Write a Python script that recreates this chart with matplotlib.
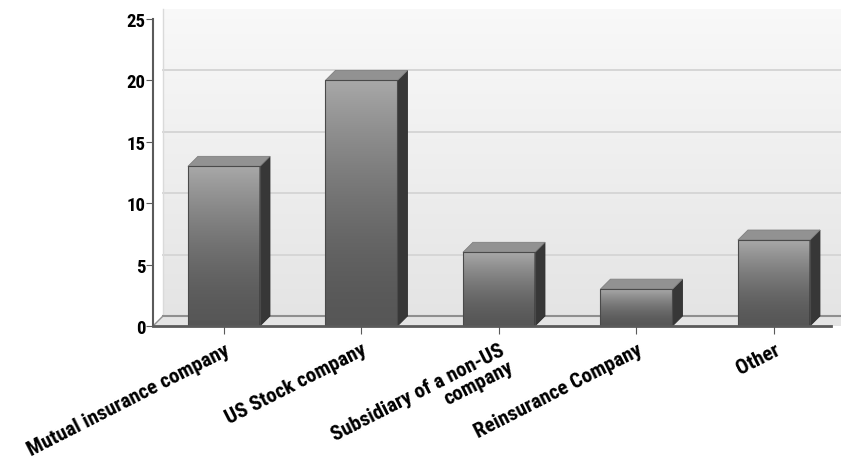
import numpy as np
import matplotlib.pyplot as plt
from matplotlib.patches import Polygon

categories = ['Mutual insurance company', 'US Stock company',
              'Subsidiary of a non-US\ncompany', 'Reinsurance Company', 'Other']
values = [13, 20, 6, 3, 7]
y_ticks = [0, 5, 10, 15, 20, 25]

plt.rcParams['font.family'] = ['Roboto Condensed', 'DejaVu Sans']

W, H = 841, 464
fig = plt.figure(figsize=(W / 100, H / 100), dpi=100)
L, R, B, T = 153, 831, 327, 20
ax = fig.add_axes([L / W, 1 - B / H, (R - L) / W, (B - T) / H])

xlim = (-0.516, 4.415)
ylim = (0, 25)
# depth of the fake 3D look: 10 px right and 10 px up
dx = 10 * (xlim[1] - xlim[0]) / (R - L)
dy = 10 * (ylim[1] - ylim[0]) / (B - T)
w = 0.524
x = np.arange(len(categories))

# back wall
g = np.linspace(0.975, 0.895, 256)[:, None]
wall = np.dstack([g, g, g])
im = ax.imshow(wall, extent=[xlim[0] + dx, xlim[1] + dx, ylim[0] + dy, ylim[1] + dy],
               aspect='auto', origin='upper', zorder=0)
im.set_clip_on(False)
for v in y_ticks[1:-1]:
    ax.plot([xlim[0] + dx, xlim[1] + dx], [v + dy, v + dy], color='#d6d6d6', lw=1.4,
            zorder=1, clip_on=False)
ax.plot([xlim[0] + dx, xlim[0] + dx], [dy, ylim[1] + dy], color='#dadada', lw=1, zorder=1,
        clip_on=False)

# floor
ax.add_patch(Polygon([(xlim[0], 0), (xlim[0] + dx, dy), (xlim[1] + dx, dy), (xlim[1] + dx, 0)],
                     closed=True, facecolor='#e4e4e4', edgecolor='none', zorder=1, clip_on=False))
ax.plot([xlim[0] + dx, xlim[1] + dx], [dy, dy], color='#8f8f8f', lw=1.5, zorder=1, clip_on=False)
ax.plot([xlim[0], xlim[0] + dx], [0, dy], color='#8f8f8f', lw=1, zorder=1, clip_on=False)

# bars: light at top, dark lower down
t = np.linspace(1, 0, 256)  # row 0 = top
shade = 0.34 + 0.32 * t ** 1.6
face = np.repeat(shade[:, None, None], 3, axis=2)
for xi, v in zip(x, values):
    x0, x1 = xi - w / 2, xi + w / 2
    ax.imshow(face, extent=[x0, x1, 0, v], aspect='auto', origin='upper', zorder=3)
    ax.add_patch(Polygon([(x0, 0), (x0, v), (x1, v), (x1, 0)], closed=True, fill=False,
                         edgecolor='#4a4a4a', lw=0.8, zorder=4))
    ax.add_patch(Polygon([(x1, 0), (x1 + dx, dy), (x1 + dx, v + dy), (x1, v)], closed=True,
                         facecolor='#373737', edgecolor='#2e2e2e', lw=0.6, zorder=3))
    ax.add_patch(Polygon([(x0, v), (x0 + dx, v + dy), (x1 + dx, v + dy), (x1, v)], closed=True,
                         facecolor='#929292', edgecolor='#808080', lw=0.6, zorder=3))

ax.set_xlim(xlim)
ax.set_ylim(ylim)

for s in ['top', 'right']:
    ax.spines[s].set_visible(False)
for s in ['left', 'bottom']:
    ax.spines[s].set_color('#5a5a5a')
    ax.spines[s].set_zorder(5)
ax.spines['left'].set_linewidth(1.5)
ax.spines['bottom'].set_linewidth(2)

ax.set_yticks(y_ticks)
ax.set_yticklabels([str(v) for v in y_ticks], fontsize=13.5, fontweight='bold')
ax.tick_params(axis='y', length=5, color='#5a5a5a', pad=0.5)
ax.set_xticks(x)
ax.set_xticklabels(categories, rotation=27, ha='right', va='top', rotation_mode='anchor',
                   fontsize=15, fontweight='bold', multialignment='right', linespacing=1.0)
ax.tick_params(axis='x', length=6, color='#5a5a5a', pad=4)

fig.savefig('out.png', dpi=100)
